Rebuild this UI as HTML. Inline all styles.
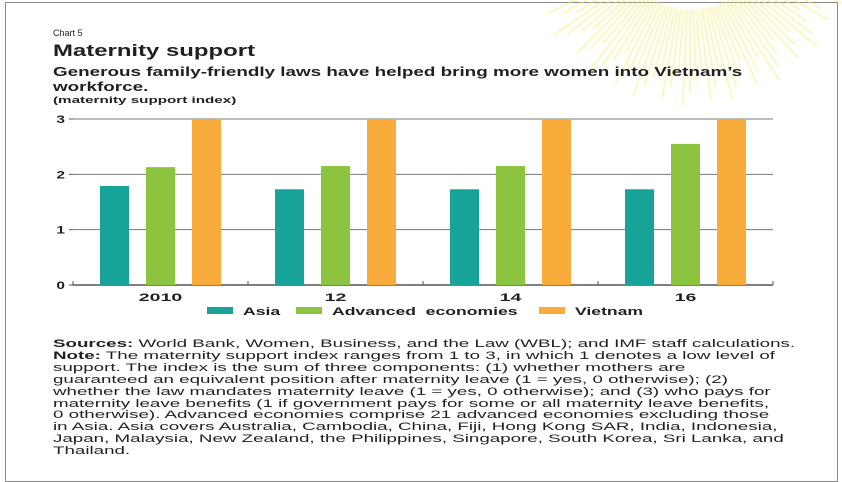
<!DOCTYPE html>
<html><head><meta charset="utf-8"><style>
body{margin:0;width:842px;height:474px;overflow:hidden;background:#fff;font-family:"Liberation Sans",sans-serif;color:#231f20}
#frame{position:absolute;left:5px;top:2px;width:833px;height:480px;border:1px solid #8a8a8a;box-sizing:border-box}
.t{position:absolute;left:53px;white-space:nowrap;transform-origin:0 0}
#notes{position:absolute;left:53px;top:339px;font-size:11.3px;line-height:11.9px;white-space:pre;transform:scaleX(1.66);transform-origin:0 0}
</style></head><body>
<div id="frame"></div>
<svg id="sun" width="842" height="474" style="position:absolute;left:0;top:0"></svg>
<div class="t" style="top:28px;font-size:9px">Chart 5</div>
<div class="t" style="top:42px;font-size:16.5px;font-weight:bold;transform:scaleX(1.45)">Maternity support</div>
<div class="t" style="top:64px;font-size:13px;font-weight:bold;line-height:15px;transform:scaleX(1.45)">Generous family-friendly laws have helped bring more women into Vietnam’s<br>workforce.</div>
<div class="t" style="top:95px;font-size:9.5px;font-weight:bold;transform:scaleX(1.6)">(maternity support index)</div>
<svg id="chart" width="842" height="474" style="position:absolute;left:0;top:0"></svg>
<div id="notes"><b>Sources:</b> World Bank, Women, Business, and the Law (WBL); and IMF staff calculations.
<b>Note:</b> The maternity support index ranges from 1 to 3, in which 1 denotes a low level of
support. The index is the sum of three components: (1) whether mothers are
guaranteed an equivalent position after maternity leave (1 = yes, 0 otherwise); (2)
whether the law mandates maternity leave (1 = yes, 0 otherwise); and (3) who pays for
maternity leave benefits (1 if government pays for some or all maternity leave benefits,
0 otherwise). Advanced economies comprise 21 advanced economies excluding those
in Asia. Asia covers Australia, Cambodia, China, Fiji, Hong Kong SAR, India, Indonesia,
Japan, Malaysia, New Zealand, the Philippines, Singapore, South Korea, Sri Lanka, and
Thailand.</div>
<script>
const categories=["2010","12","14","16"];
const seriesNames=["Asia","Advanced economies","Vietnam"];
const asia=[1.79,1.73,1.73,1.73];
const advanced=[2.13,2.15,2.15,2.55];
const vietnam=[3,3,3,3];
const yTicks=[0,1,2,3];
const colors=["#17a398","#8cc43f","#f9ab3b"];
const NS="http://www.w3.org/2000/svg";
function mk(p,tag,a){const e=document.createElementNS(NS,tag);for(const k in a)e.setAttribute(k,a[k]);p.appendChild(e);return e;}
const sun=document.getElementById('sun');
for(let i=0;i<60;i++){const ang=(15+i*2.5)*Math.PI/180;const cx=690,cy=-60;
 const r1=70,r2=130+((i*37)%7)*6;
 const l=mk(sun,'line',{x1:cx+r1*Math.cos(ang),y1:cy+r1*Math.sin(ang),x2:cx+r2*Math.cos(ang),y2:cy+r2*Math.sin(ang),stroke:'#f7ec7a','stroke-width':2,opacity:0.45});
 
 }
const svg=document.getElementById('chart');
const X0=73,X1=773,Y0=285,Y3=119;
const y=v=>Y0-(v/3)*(Y0-Y3);
const band=(X1-X0)/categories.length;
const xc=i=>X0+band*i+band/2;
function txt(x,yy,s,size,sx,anchor){const t=mk(svg,'text',{transform:`translate(${x},${yy}) scale(${sx},1)`,'font-size':size,'font-weight':'bold','text-anchor':anchor,fill:'#231f20'});t.textContent=s;return t;}
yTicks.forEach(t=>{
 const g=mk(svg,'line',{x1:X0,x2:X1,y1:y(t),y2:y(t),stroke:t===0?'#555':'#777','stroke-width':t===0?1.5:1});
 
 
 const tx=txt(65,y(t)+4,String(t),11,1.4,'end');
 
 
 const tk=mk(svg,'line',{x1:X0-4,x2:X0,y1:y(t),y2:y(t),stroke:'#555'});
 
 
});
for(let i=0;i<=categories.length;i++){const xx=X0+band*i;
 const tk=mk(svg,'line',{x1:xx,x2:xx,y1:Y0-4,y2:Y0,stroke:'#555'});
 
 }
const series=[asia,advanced,vietnam];
const bw=29,gap=46;
categories.forEach((c,i)=>{
 series.forEach((s,j)=>{
  const x=xc(i)+(j-1)*gap-bw/2;
  const r=mk(svg,'rect',{x:x,y:y(s[i]),width:bw,height:Y0-y(s[i]),fill:colors[j]});
  
  
 });
 const t=txt(xc(i),301,c,11.5,1.7,'middle');
 
 
});
const lx=[207,296,539];
seriesNames.forEach((n,j)=>{
 const r=mk(svg,'rect',{x:lx[j],y:307,width:26,height:7,fill:colors[j]});
 
 
 const t=txt(lx[j]+36,315,n,11,1.6,'start');
 t.setAttribute('word-spacing','3');
 
 
});
</script>
</body></html>
